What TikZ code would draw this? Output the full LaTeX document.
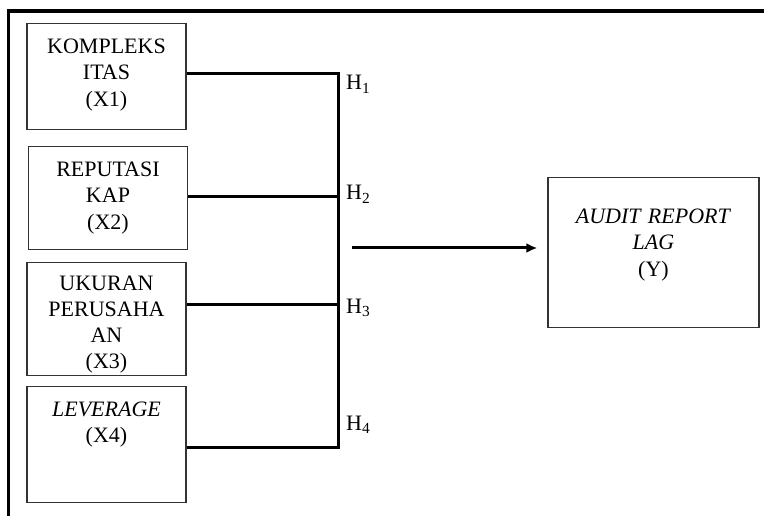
\documentclass[tikz,border=0pt]{standalone}
\usepackage{fontspec}
\setmainfont{Liberation Serif}
\usetikzlibrary{arrows.meta,positioning}
\tikzset{
  varbox/.style={draw=black!80,line width=1.3pt,align=center,anchor=north,inner sep=0pt,text width=159pt,text height=29.5pt,font=\fontsize{22}{26.5}\selectfont},
  link/.style={line width=3pt,line join=miter},
  arrow/.style={-{Latex[length=11pt,width=10pt]},line width=3pt},
  hlabel/.style={anchor=base west,inner sep=0pt,font=\fontsize{22}{26}\selectfont}
}
\begin{document}
\begin{tikzpicture}[x=1pt,y=-1pt]
  \useasboundingbox (0,0) rectangle (764,516);
  % frame
  \draw[line width=3.4pt] (8.5,516) -- (8.5,11) -- (764,11);

  \node[varbox,text depth=76.5pt] (x1) at (106.5,23) {KOMPLEKS\\ITAS\\(X1)};
  \node[varbox,text depth=73.5pt] (x2) at (108,146) {REPUTASI\\KAP\\(X2)};
  \node[varbox,text height=27.5pt,text depth=85.5pt,font=\fontsize{22}{26}\selectfont] (x3) at (106.5,262) {UKURAN\\PERUSAHA\\AN\\(X3)};
  \node[varbox,text depth=86.5pt] (x4) at (106.5,386) {\textit{LEVERAGE}\\(X4)};
  \node[varbox,text width=211pt,text height=45.5pt,text depth=104.5pt] (y) at (653.5,177) {\textit{AUDIT REPORT}\\\textit{LAG}\\(Y)};

  \coordinate (h1) at (338,74);
  \coordinate (h2) at (338,197);
  \coordinate (h3) at (338,304);
  \coordinate (h4) at (338,447);
  \coordinate (src) at (352,248);

  \draw[link] (x1.east |- h1) -- (h1) -- (h4) -- (x4.east |- h4);
  \draw[link] (x2.east |- h2) -- (h2);
  \draw[link] (x3.east |- h3) -- (h3);
  \draw[arrow,shorten >=10pt] (src) -- (y.west |- src);

  \node[hlabel] (lh1) at (346,90) {H\textsubscript{1}};
  \node[hlabel] (lh2) at (346,200) {H\textsubscript{2}};
  \node[hlabel] (lh3) at (346,313) {H\textsubscript{3}};
  \node[hlabel] (lh4) at (346,430) {H\textsubscript{4}};
\end{tikzpicture}
\end{document}
